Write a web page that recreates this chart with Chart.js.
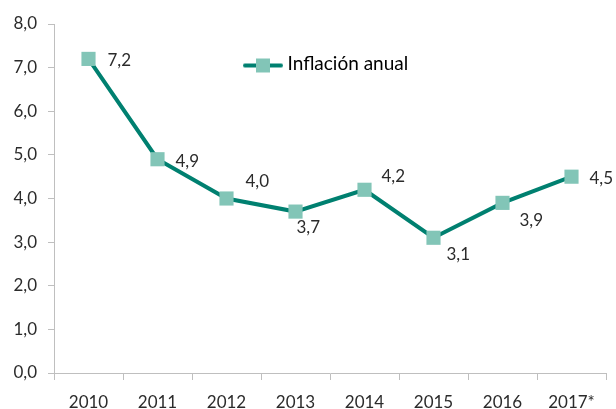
<!DOCTYPE html>
<html>
<head>
<meta charset="utf-8">
<script src="https://cdn.jsdelivr.net/npm/chart.js@4.4.1/dist/chart.umd.min.js"></script>
<style>
  html, body { margin: 0; padding: 0; background: #fff; }
  #wrap { width: 616px; height: 409px; }
</style>
</head>
<body>
<div id="wrap"><canvas id="mycanvas"></canvas></div>
<script>
var years = ['2010', '2011', '2012', '2013', '2014', '2015', '2016', '2017*'];
var inflacion = [7.2, 4.9, 4.0, 3.7, 4.2, 3.1, 3.9, 4.5];
var yTicks = [0, 1, 2, 3, 4, 5, 6, 7, 8];

var lineColor = '#008070';
var markColor = '#82c5b7';
var textColor = '#2b2b2b';
var axisColor = '#bfbfbf';

function coma(v) {
	return v.toFixed(1).replace('.', ',');
}

// legend icon: line with a square in the middle
var icon = document.createElement('canvas');
icon.width = 40;
icon.height = 20;
var ic = icon.getContext('2d');
ic.strokeStyle = lineColor;
ic.lineWidth = 4;
ic.lineCap = 'round';
ic.beginPath();
ic.moveTo(2, 12);
ic.lineTo(38, 12);
ic.stroke();
ic.fillStyle = markColor;
ic.fillRect(13, 5, 14, 14);

// value labels next to each point
var valueLabels = {
	id: 'valueLabels',
	afterDatasetsDraw: function(chart, args, opts) {
		var ctx = chart.ctx;
		var meta = chart.getDatasetMeta(0);
		ctx.save();
		ctx.font = '17px Lato';
		ctx.fillStyle = textColor;
		ctx.textAlign = 'left';
		ctx.textBaseline = 'middle';
		meta.data.forEach(function(pt, i) {
			var off = opts.offsets[i];
			ctx.fillText(coma(chart.data.datasets[0].data[i]), pt.x + off[0], pt.y + off[1]);
		});
		ctx.restore();
	}
};

// move the legend inside the plot, near the top
var legendSpot = {
	id: 'legendSpot',
	afterLayout: function(chart, args, opts) {
		var lg = chart.legend;
		var w = lg.right - lg.left, h = lg.bottom - lg.top;
		lg.left = chart.chartArea.left + opts.dx;
		lg.top = chart.chartArea.top + opts.dy;
		lg.right = lg.left + w;
		lg.bottom = lg.top + h;
	}
};

var chartdata = {
	labels: years,
	datasets: [
		{
			label: 'Inflación anual',
			data: inflacion,
			fill: false,
			lineTension: 0,
			borderColor: lineColor,
			borderWidth: 4,
			pointStyle: 'rect',
			pointRadius: 10,
			pointHoverRadius: 10,
			pointBackgroundColor: markColor,
			pointBorderColor: markColor,
			pointBorderWidth: 0
		}
	]
};

var ctx = document.getElementById('mycanvas');
var LineGraph = new Chart(ctx, {
	type: 'line',
	data: chartdata,
	plugins: [valueLabels, legendSpot],
	options: {
		responsive: true,
		maintainAspectRatio: false,
		animation: false,
		layout: { padding: { left: 0, right: 10, top: 24, bottom: 0 } },
		plugins: {
			tooltip: { enabled: false },
			valueLabels: {
				offsets: [[19, 2], [18, 2], [19, -17], [1, 16], [17, -13], [13, 17], [17, 18], [18, 2]]
			},
			legendSpot: { dx: 184, dy: 20 },
			legend: {
				position: 'chartArea',
				align: 'start',
				labels: {
					usePointStyle: true,
					pointStyleWidth: 30,
					padding: 10,
					color: textColor,
					font: { family: 'Lato', size: 19 },
					generateLabels: function(chart) {
						return [{
							text: chart.data.datasets[0].label,
							pointStyle: icon,
							fillStyle: markColor,
							strokeStyle: lineColor,
							lineWidth: 0,
							datasetIndex: 0
						}];
					}
				}
			}
		},
		scales: {
			x: {
				offset: true,
				afterFit: function(scale) { scale.height = 36; },
				grid: {
					offset: true,
					drawOnChartArea: false,
					color: axisColor,
					tickLength: 7
				},
				border: { color: axisColor, width: 1 },
				ticks: {
					color: textColor,
					font: { family: 'Lato', size: 17 },
					padding: 12,
					maxRotation: 0
				}
			},
			y: {
				min: 0,
				max: 8,
				afterFit: function(scale) { scale.width = 54; },
				afterBuildTicks: function(axis) {
					axis.ticks = yTicks.map(function(v) { return { value: v }; });
				},
				grid: {
					drawOnChartArea: false,
					color: axisColor,
					tickLength: 6
				},
				border: { color: axisColor, width: 1 },
				ticks: {
					color: textColor,
					font: { family: 'Lato', size: 17 },
					padding: 11,
					callback: function(v) { return coma(v); }
				}
			}
		}
	}
});
</script>
</body>
</html>
